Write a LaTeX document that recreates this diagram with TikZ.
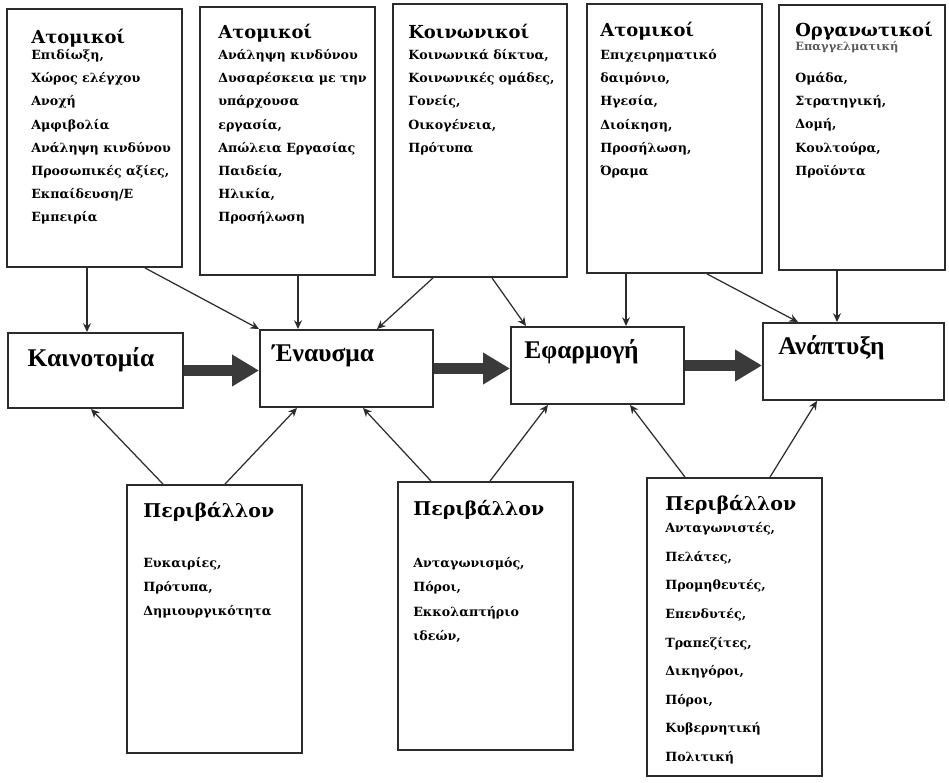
\documentclass[tikz,border=0pt]{standalone}
\usepackage{fontspec}
\setmainfont{DejaVu Serif}
\newfontfamily\stagefont{Liberation Serif}
\usetikzlibrary{arrows.meta, positioning}
\definecolor{InkGray}{HTML}{2B2B2B}
\definecolor{FlowGray}{HTML}{3A3A3A}
\definecolor{FadedGray}{HTML}{5A5A5A}

\tikzset{
  factor/.style={draw=InkGray, line width=1.1pt, minimum width=3.5cm, inner sep=0pt},
  phase/.style={draw=InkGray, line width=1.1pt, minimum width=3.46cm, minimum height=1.54cm, inner sep=0pt},
  head/.style={anchor=base west, inner sep=0pt, font=\bfseries\fontsize{10.2}{12}\selectfont},
  items/.style={anchor=north west, inner sep=0pt, align=left, font=\bfseries\fontsize{7.2}{13.2}\selectfont},
  stage/.style={inner sep=0pt, font=\stagefont\bfseries\fontsize{14.5}{16}\selectfont},
  link/.style={-{Stealth[length=5pt,width=4.5pt]}, draw=InkGray, line width=0.7pt},
  flow/.style={-{Triangle[length=0.54cm,width=0.6cm]}, draw=FlowGray, line width=0.24cm}
}

\begin{document}
\begin{tikzpicture}[x=0.02cm, y=-0.02cm]
\useasboundingbox (0,0) rectangle (949,783);

% top row: factors
\node[factor, minimum height=5.16cm] (atom1) at (94.5,138) {};
\node[factor, minimum height=5.36cm] (atom2) at (287.5,141) {};
\node[factor, minimum height=5.46cm, minimum width=3.48cm] (social) at (480,140.5) {};
\node[factor, minimum height=5.38cm] (atom3) at (674.5,138.5) {};
\node[factor, minimum height=5.3cm, minimum width=3.32cm] (organ) at (862,137.5) {};

\node[head] (atom1h) at (31,44) {Ατομικοί};
\node[items] (atom1t) at (31,49) {Επιδίωξη,\\Χώρος ελέγχου\\Ανοχή\\Αμφιβολία\\Ανάληψη κινδύνου\\Προσωπικές αξίες,\\Εκπαίδευση/Ε\\Εμπειρία};
\node[head] (atom2h) at (218,39) {Ατομικοί};
\node[items] (atom2t) at (218,49) {Ανάληψη κινδύνου\\Δυσαρέσκεια με την\\υπάρχουσα\\εργασία,\\Απώλεια Εργασίας\\Παιδεία,\\Ηλικία,\\Προσήλωση};
\node[head] (socialh) at (408,39) {Κοινωνικοί};
\node[items] (socialt) at (408,49) {Κοινωνικά δίκτυα,\\Κοινωνικές ομάδες,\\Γονείς,\\Οικογένεια,\\Πρότυπα};
\node[head] (atom3h) at (600,37) {Ατομικοί};
\node[items] (atom3t) at (600,49) {Επιχειρηματικό\\δαιμόνιο,\\Ηγεσία,\\Διοίκηση,\\Προσήλωση,\\Όραμα};
\node[head] (organh) at (795,37) {Οργανωτικοί};
\node[anchor=base west, inner sep=0pt, text=FadedGray, font=\bfseries\fontsize{6.5}{8}\selectfont] (organs) at (795,51) {Επαγγελματική};
\node[items] (organt) at (795,72) {Ομάδα,\\Στρατηγική,\\Δομή,\\Κουλτούρα,\\Προϊόντα};

% middle row: phases
\node[phase, minimum width=3.5cm, minimum height=1.5cm] (innov) at (95.5,370.5) {};
\node[phase] (trigger) at (346.5,368.5) {};
\node[phase] (implem) at (597.5,365.5) {};
\node[phase, minimum width=3.62cm] (growth) at (853.5,361.5) {};

\node[stage] (innovl) at (91,360) {Καινοτομία};
\node[stage, anchor=west] (triggerl) at (272,356) {Έναυσμα};
\node[stage, anchor=west] (impleml) at (524,352) {Εφαρμογή};
\node[stage, anchor=west] (growthl) at (778,348) {Ανάπτυξη};

% bottom row: environment
\node[factor, minimum height=5.36cm] (env1) at (214.5,619) {};
\node[factor, minimum height=5.36cm] (env2) at (485.5,616) {};
\node[factor, minimum height=5.96cm] (env3) at (734.5,627) {};

\node[head, font=\bfseries\fontsize{10.8}{13}\selectfont] (env1h) at (143,517) {Περιβάλλον};
\node[items, font=\bfseries\fontsize{7.2}{13.6}\selectfont] (env1t) at (143,557) {Ευκαιρίες,\\Πρότυπα,\\Δημιουργικότητα};
\node[head, font=\bfseries\fontsize{10.8}{13}\selectfont] (env2h) at (413,515) {Περιβάλλον};
\node[items, font=\bfseries\fontsize{7.2}{13.9}\selectfont] (env2t) at (413,557) {Ανταγωνισμός,\\Πόροι,\\Εκκολαπτήριο\\ιδεών,};
\node[head, font=\bfseries\fontsize{10.8}{13}\selectfont] (env3h) at (665,510) {Περιβάλλον};
\node[items, font=\bfseries\fontsize{7.2}{16.3}\selectfont] (env3t) at (665,522) {Ανταγωνιστές,\\Πελάτες,\\Προμηθευτές,\\Επενδυτές,\\Τραπεζίτες,\\Δικηγόροι,\\Πόροι,\\Κυβερνητική\\Πολιτική};

% main flow
\draw[flow] (innov.east) -- (trigger.west |- innov.east);
\draw[flow] (trigger.east) -- (implem.west |- trigger.east);
\draw[flow] (implem.east) -- (growth.west |- implem.east);

% factors into phases
\draw[link] (atom1.south -| 87,0) -- (innov.north -| 87,0);
\draw[link] (atom1.south -| 145,0) -- (trigger.north west);
\draw[link] (atom2.south -| 298,0) -- (trigger.north -| 298,0);
\draw[link] (social.south -| 433,0) -- (trigger.north -| 377,0);
\draw[link] (social.south -| 492,0) -- (implem.north -| 526,0);
\draw[link] (atom3.south -| 626,0) -- (implem.north -| 626,0);
\draw[link] (atom3.south -| 707,0) -- (growth.north -| 798,0);
\draw[link] (organ.south -| 837,0) -- (growth.north -| 837,0);

% environment into phases
\draw[link] (env1.north -| 163,0) -- (innov.south -| 91,0);
\draw[link] (env1.north -| 225,0) -- (trigger.south -| 297,0);
\draw[link] (env2.north -| 431,0) -- (trigger.south -| 363,0);
\draw[link] (env2.north -| 490,0) -- (implem.south -| 548,0);
\draw[link] (env3.north -| 685,0) -- (implem.south -| 630,0);
\draw[link] (env3.north -| 770,0) -- (growth.south -| 817,0);
\end{tikzpicture}
\end{document}
